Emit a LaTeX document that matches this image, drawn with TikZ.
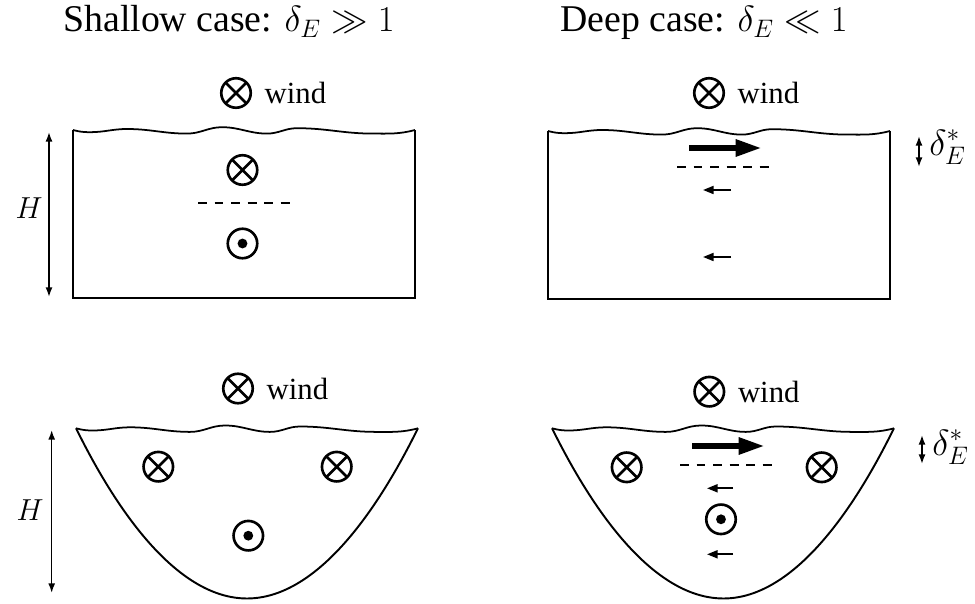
\documentclass[tikz,border=0pt]{standalone}
\usepackage{fontspec}
\setmainfont{Liberation Serif}
\usetikzlibrary{arrows.meta, positioning}

\begin{document}
\begin{tikzpicture}[
    x=0.02cm, y=-0.02cm,
    into/.style={circle, draw, line width=1.5pt, minimum size=0.59cm, inner sep=0pt,
        path picture={\draw[line width=1.5pt] (path picture bounding box.south west) -- (path picture bounding box.north east)
            (path picture bounding box.north west) -- (path picture bounding box.south east);}},
    outof/.style={circle, draw, line width=1.5pt, minimum size=0.59cm, inner sep=0pt,
        path picture={\fill (path picture bounding box.center) circle (2.8pt);}},
    title/.style={anchor=base west, inner sep=0pt, font=\fontsize{21.5}{26}\selectfont},
    windtxt/.style={inner sep=0pt, font=\fontsize{17.5}{20}\selectfont},
    dimtxt/.style={inner sep=0pt, font=\fontsize{17}{20}\selectfont},
    deltxt/.style={inner sep=0pt, anchor=west, font=\fontsize{20}{23}\selectfont},
    wall/.style={line width=1.4pt},
    bowl/.style={line width=1.1pt},
    level/.style={line width=1.2pt, dash pattern=on 5.1pt off 4.3pt},
    jet/.style={-{Triangle[length=15pt,width=9pt]}, line width=3.5pt},
    drift/.style={-{Triangle[length=6pt,width=4.5pt]}, line width=1.1pt},
    span/.style={{Latex[length=5.5pt,width=4pt]}-{Latex[length=5.5pt,width=4pt]}, line width=0.9pt},
    surface/.pic={
        \draw[line width=1pt] (0,0) to[out=-15,in=180] (17,2.2) to[out=0,in=180] (54,-1)
            to[out=0,in=180] (114,3.6) to[out=0,in=180] (149,-2.8) to[out=0,in=180] (194,3.6)
            to[out=0,in=180] (224,-1.8) to[out=0,in=180] (300,3.6) to[out=0,in=195] (342,0);
        \coordinate (-l) at (0,0);
        \coordinate (-r) at (342,0);
    }
]
    \useasboundingbox (0,0) rectangle (975,604);

    % Titles
    \node[title] (shallow) at (63,32) {Shallow case: $\delta_E \gg 1$};
    \node[title] (deep) at (560,32) {Deep case: $\delta_E \ll 1$};

    % Shallow, flat bottom
    \node[into] (windA) at (236,93) {};
    \node[windtxt, right=7pt of windA] (windAt) {wind};
    \pic (sA) at (73,130) {surface};
    \draw[wall] (sA-l) -- ++(0,168) -| (sA-r);
    \node[into] (upA) at (242.5,170) {};
    \draw[level] (198,203) -- (290,203);
    \node[outof] (lowA) at (242.5,243.5) {};
    \coordinate (hAt) at (49,132);
    \coordinate (hAb) at (49,297);
    \draw[span] (hAt) -- (hAb);
    \node[dimtxt] (HA) at (29,208) {$H$};

    % Deep, flat bottom
    \node[into] (windB) at (709,93) {};
    \node[windtxt, right=7pt of windB] (windBt) {wind};
    \pic (sB) at (548,131) {surface};
    \draw[wall] (sB-l) -- ++(0,168) -| (sB-r);
    \coordinate (jB1) at (689,148);
    \coordinate (jB2) at (762,148);
    \draw[jet] (jB1) -- (jB2);
    \draw[level] (677,167) -- (769,167);
    \coordinate (dB1) at (731,190);
    \coordinate (dB2) at (703,190);
    \draw[drift] (dB1) -- (dB2);
    \coordinate (dB3) at (731,257);
    \coordinate (dB4) at (703,257);
    \draw[drift] (dB3) -- (dB4);
    \coordinate (eBt) at (919,136);
    \coordinate (eBb) at (919,167);
    \draw[span] (eBt) -- (eBb);
    \node[deltxt] (eB) at (929,147) {$\delta_E^*$};

    % Shallow, curved bottom
    \node[into] (windC) at (238,388.5) {};
    \node[windtxt, right=7pt of windC] (windCt) {wind};
    \pic (sC) at (76,428.3) {surface};
    \draw[bowl] (sC-l) parabola bend (247,598.5) (sC-r);
    \node[into] (leftC) at (158.3,466.7) {};
    \node[into] (rightC) at (336.7,466.7) {};
    \node[outof] (lowC) at (248.3,535.7) {};
    \coordinate (hCt) at (51.7,430);
    \coordinate (hCb) at (51.7,593);
    \draw[span] (hCt) -- (hCb);
    \node[dimtxt] (HC) at (30,510) {$H$};

    % Deep, curved bottom
    \node[into] (windD) at (709.3,391.7) {};
    \node[windtxt, right=7pt of windD] (windDt) {wind};
    \pic (sD) at (552,428.3) {surface};
    \draw[bowl] (sD-l) parabola bend (723.5,598.5) (sD-r);
    \coordinate (jD1) at (692,446);
    \coordinate (jD2) at (765,446);
    \draw[jet] (jD1) -- (jD2);
    \draw[level] (680,465) -- (772,465);
    \node[into] (leftD) at (626.7,467.3) {};
    \node[into] (rightD) at (821.7,467.3) {};
    \coordinate (dD1) at (733,488.3);
    \coordinate (dD2) at (707,488.3);
    \draw[drift] (dD1) -- (dD2);
    \node[outof] (lowD) at (721,519.3) {};
    \coordinate (dD3) at (733,554.3);
    \coordinate (dD4) at (707,554.3);
    \draw[drift] (dD3) -- (dD4);
    \coordinate (eDt) at (922,435);
    \coordinate (eDb) at (922,464);
    \draw[span] (eDt) -- (eDb);
    \node[deltxt] (eD) at (932,447) {$\delta_E^*$};
\end{tikzpicture}
\end{document}
